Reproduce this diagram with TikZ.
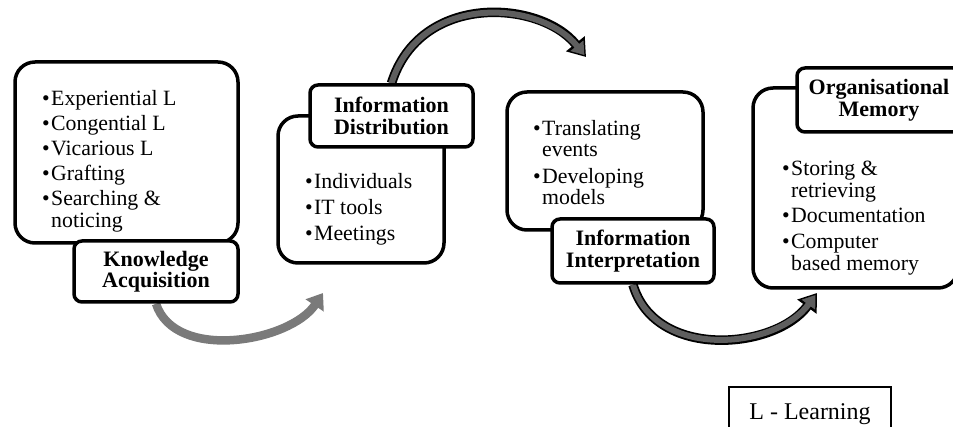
\documentclass[tikz,border=0pt]{standalone}
\usepackage{fontspec}
\setmainfont{Liberation Serif}
\usetikzlibrary{arrows.meta}
\pgfdeclarelayer{bg}
\pgfsetlayers{bg,main}
\definecolor{grayA}{HTML}{7A7A7A}
\definecolor{grayB}{HTML}{5E5E5E}
\newcommand\bul{\makebox[9pt][l]{\textbullet}}
\newcommand\ind{\hspace*{9pt}}
\begin{document}
\begin{tikzpicture}[x=1pt,y=-1pt,
  bigbox/.style={draw, line width=3.5pt, rounded corners=20pt, fill=white, inner sep=0pt},
  labelbox/.style={draw, line width=3.5pt, rounded corners=8pt, fill=white, inner sep=0pt,
    align=center, font=\fontsize{22}{21.5}\selectfont\bfseries},
  itemlist/.style={anchor=north west, inner sep=0pt, align=left,
    font=\fontsize{21.8}{22}\selectfont},
  arrA/.style={line width=8.5pt, draw=grayA, -{Triangle[width=21pt,length=15pt]}},
  arrOut/.style={line width=9.5pt, draw=black, -{Triangle[width=23pt,length=17pt]}},
  arrIn/.style={line width=6pt, draw=grayB, shorten >=2.5pt, -{Triangle[width=16pt,length=12pt]}},
  legendbox/.style={draw, line width=1.5pt, minimum width=162pt, text height=15pt,
    text depth=5pt, inner ysep=18pt, font=\fontsize{24}{26}\selectfont}
]
\useasboundingbox (0,0) rectangle (953,427);
\clip (0,0) rectangle (953,427);

% Knowledge Acquisition
\node[bigbox, minimum width=223pt, minimum height=181pt] (b1) at (126.5,152.5) {};
\node[labelbox, minimum width=164pt, minimum height=61pt] (ka) at (156,271.5) {Knowledge\\Acquisition};
\node[itemlist] (l1) at (42,89.5) {\strut\bul Experiential L\\[3pt]\bul Congential L\\[3pt]\bul Vicarious L\\[3pt]\bul Grafting\\[3pt]\bul Searching \&\\\ind noticing};

% Information Distribution
\node[bigbox, minimum width=166pt, minimum height=147pt] (b2) at (361,189.5) {};
\node[labelbox, minimum width=163pt, minimum height=62pt] (id) at (391.5,116) {Information\\Distribution};
\node[itemlist] (l2) at (305,172.5) {\strut\bul Individuals\\[4pt]\bul IT tools\\[4pt]\bul Meetings};

% Information Interpretation
\node[bigbox, minimum width=196pt, minimum height=138pt] (b3) at (605,161) {};
\node[labelbox, minimum width=162pt, minimum height=64pt] (ii) at (633,251) {Information\\Interpretation};
\node[itemlist] (l3) at (533,119.5) {\strut\bul Translating\\[-1pt]\ind events\\[5pt]\bul Developing\\[-1pt]\ind models};

% Organisational Memory
\node[bigbox, minimum width=205pt, minimum height=200pt] (b4) at (855.5,188) {};
\node[labelbox, minimum width=164pt, minimum height=64pt] (om) at (879,100) {Organisational\\Memory};
\node[itemlist] (l4) at (782,159.5) {\strut\bul Storing \&\\\ind retrieving\\[3.5pt]\bul Documentation\\[3.5pt]\bul Computer\\\ind based memory};

% Legend
\node[legendbox, anchor=base] (leg) at (810,420) {L - Learning};

% Arrows
\coordinate (t1) at (323,293);
\coordinate (t2) at (586,57);
\coordinate (t3) at (817,293);
\begin{pgfonlayer}{bg}
\draw[arrA] (ka.south) .. controls (175,362) and (290,342) .. (t1);
\draw[arrOut] (id.north) .. controls (420,-8) and (540,0) .. (t2);
\draw[arrIn] (id.north) .. controls (420,-8) and (540,0) .. (t2);
\draw[arrOut] (ii.south) .. controls (655,360) and (775,350) .. (t3);
\draw[arrIn] (ii.south) .. controls (655,360) and (775,350) .. (t3);
\end{pgfonlayer}
\end{tikzpicture}
\end{document}
